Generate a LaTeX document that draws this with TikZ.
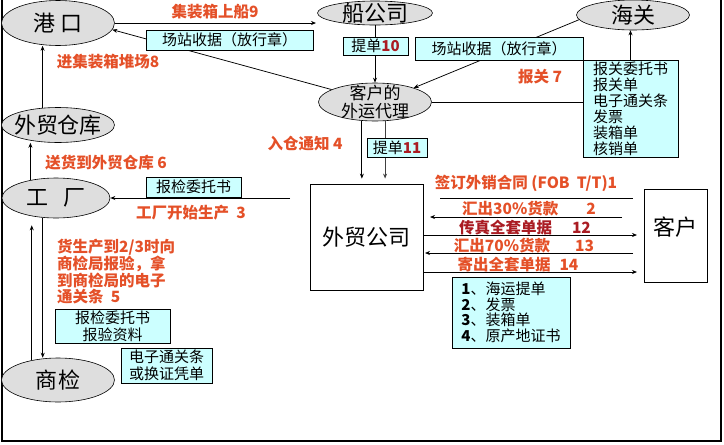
\documentclass[tikz,border=0pt]{standalone}
\usepackage{fontspec}
\setmainfont{Noto Sans CJK SC}
\usetikzlibrary{shapes.geometric,arrows.meta}
\definecolor{labred}{RGB}{228,80,40}
\definecolor{darkred}{RGB}{170,28,35}
\definecolor{boxcyan}{RGB}{204,255,255}
\definecolor{ellgray}{RGB}{222,222,222}
\begin{document}
\begin{tikzpicture}[x=1pt,y=-1pt,
  ell/.style={ellipse,draw,fill=ellgray,inner sep=0pt,line width=0.6pt},
  big/.style={font=\fontsize{22}{24}\selectfont},
  rectbox/.style={draw,fill=white,inner sep=0pt,line width=0.8pt},
  cbox/.style={draw,fill=boxcyan,inner sep=0pt,line width=0.8pt,align=center,font=\fontsize{15}{17}\selectfont},
  lab/.style={text=labred,font=\bfseries\fontsize{15.5}{15.7}\selectfont,inner sep=0pt},
  arr/.style={-{Stealth[length=5pt,width=4pt]},line width=0.75pt},
  ln/.style={line width=0.75pt}]
\useasboundingbox (0,0) rectangle (724,445);
% frame
\draw[line width=1.2pt] (2,0) -- (2,441) -- (721,441) -- (721,0);

% ellipses
\node[ell,minimum width=113pt,minimum height=45pt,label={[big]center:港\hspace{5pt}口}] (gk) at (58,23) {};
\node[ell,minimum width=115pt,minimum height=24pt,label={[big]center:船公司}] (cgs) at (375,13) {};
\node[ell,minimum width=113pt,minimum height=30pt,label={[big]center:海关}] (hg) at (633,15) {};
\node[ell,minimum width=113pt,minimum height=38pt,label={[font=\fontsize{17}{18}\selectfont,align=center]center:客户的\\外运代理}] (dl) at (375,102) {};
\node[ell,minimum width=113pt,minimum height=35pt,label={[big]center:外贸仓库}] (ck) at (58,125) {};
\node[ell,minimum width=108pt,minimum height=40pt,label={[big]center:工\hspace{15pt}厂}] (gc) at (56,198) {};
\node[ell,minimum width=113pt,minimum height=44pt,label={[big]center:商\hspace{2pt}检}] (sj) at (58,380) {};

% rectangles
\node[rectbox,minimum width=113pt,minimum height=106pt,big] (wm) at (366.5,237) {外贸公司};
\node[rectbox,minimum width=63pt,minimum height=93pt,label={[big,yshift=8pt]center:客户}] (kh) at (675.5,235.5) {};

% list box for customs (needed by connectors)
\node[cbox,align=left,minimum width=95pt,minimum height=97pt,font=\fontsize{15}{16}\selectfont] (b4) at (630.5,108.5)
  {报关委托书\\报关单\\电子通关条\\发票\\装箱单\\核销单};

% connectors
\coordinate (c1) at (316,23);
\draw[arr] (gk.east) -- (c1);
\draw[arr] (dl.164) -- (gk.-7);
\draw[arr] (cgs) -- (dl);
\draw[arr] (hg.185) -- (dl.20);
\draw[arr] (b4.north) -- (b4.north |- hg.south);
\draw[ln] (dl.east) -- (b4.west |- dl.east);
\draw[arr,shorten >=5pt] (dl.-125) -- (dl.-125 |- wm.north);
\draw[arr,shorten >=5pt,draw=black!75] (dl.-62) -- (dl.-62 |- wm.north);
\coordinate (c2) at (290,198);
\draw[arr] (c2) -- (gc.east);
\draw[arr] (gc.145) -- (gc.145 |- ck.south);
\draw[arr] (ck.132) -- (ck.132 |- gk.south);
\draw[arr,shorten >=7pt] (sj.143) -- (sj.143 |- gc.south);
\draw[arr] (gc.-124) -- (gc.-124 |- sj.north);

% company <-> customer
\coordinate (p1a) at (440,198); \coordinate (p1b) at (633,198);
\draw[ln] (p1a) -- (p1b);
\coordinate (p2a) at (622,217); \coordinate (p2b) at (430,217);
\draw[arr] (p2a) -- (p2b);
\coordinate (p3b) at (637,235);
\draw[arr] (wm.east |- p3b) -- (p3b);
\coordinate (p4a) at (633,253); \coordinate (p4b) at (425,253);
\draw[arr] (p4a) -- (p4b);
\coordinate (p5b) at (637,272);
\draw[arr] (wm.east |- p5b) -- (p5b);

% cyan boxes on top of lines
\node[cbox,minimum width=167pt,minimum height=20pt] (b1) at (229.5,40) {场站收据（放行章）};
\node[cbox,minimum width=65pt,minimum height=18pt] (b2) at (375.5,46) {提单\textcolor{darkred}{\textbf{10}}};
\node[cbox,minimum width=168pt,minimum height=23pt] (b3) at (499,48.5) {场站收据（放行章）};
\node[cbox,minimum width=60pt,minimum height=19pt] (b5) at (397,147.5) {提单\textcolor{darkred}{\textbf{11}}};
\node[cbox,minimum width=95pt,minimum height=20pt] (b6) at (193.5,187) {报检委托书};
\node[cbox,minimum width=115pt,minimum height=34pt] (b7) at (112.5,326) {报检委托书\\报验资料};
\node[cbox,minimum width=91pt,minimum height=35pt] (b8) at (166.5,365.5) {电子通关条\\或换证凭单};
\node[cbox,align=left,minimum width=118pt,minimum height=71pt,font=\fontsize{15}{15.5}\selectfont] (b9) at (511,312.5)
  {\textbf{1}、海运提单\\\textbf{2}、发票\\\textbf{3}、装箱单\\\textbf{4}、原产地证书};

% red labels
\node[lab] (l1) at (215,12) {集装箱上船9};
\node[lab] (l2) at (108,62) {进集装箱堆场8};
\node[lab] (l3) at (540,77) {报关 7};
\node[lab] (l4) at (305,144) {入仓通知 4};
\node[lab] (l5) at (106,163) {送货到外贸仓库 6};
\node[lab] (l6) at (191,213) {工厂开始生产\ \ 3};
\node[lab,align=left,anchor=north west] (l7) at (57,239) {货生产到2/3时向\\商检局报验，拿\\到商检局的电子\\通关条\ \ 5};
\node[lab] (l8) at (526,183) {签订外销合同 (FOB\ \ T/T)1};
\node[lab] (l9) at (529,209) {汇出30\%货款\hspace{28pt}2};
\node[lab,text=darkred] (l10) at (525,228) {传真全套单据\hspace{20pt}12};
\node[lab] (l11) at (524,246) {汇出70\%货款\hspace{25pt}13};
\node[lab] (l12) at (518,265) {寄出全套单据\hspace{9pt}14};
\end{tikzpicture}
\end{document}
